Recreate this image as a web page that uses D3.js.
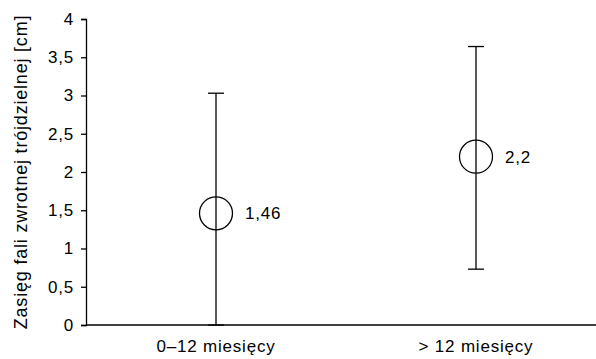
<!DOCTYPE html>
<html>
<head>
<meta charset="utf-8">
<script src="https://cdn.jsdelivr.net/npm/d3@7"></script>
<style>
  html, body { margin: 0; padding: 0; background: #fff; }
  svg { display: block; }
  text { font-family: "Liberation Sans", Arial, sans-serif; fill: #000; letter-spacing: 0.8px; }
</style>
</head>
<body>
<svg id="chart" width="596" height="359"></svg>
<script>
// Groups and their mean / range values
const categories = ["0\u201312 miesi\u0119cy", "> 12 miesi\u0119cy"];
const means = [1.46, 2.2];
const lows = [0, 0.73];
const highs = [3.03, 3.64];
const meanLabels = ["1,46", "2,2"];
const yTicks = [0, 0.5, 1, 1.5, 2, 2.5, 3, 3.5, 4];
const yTickLabels = ["0", "0,5", "1", "1,5", "2", "2,5", "3", "3,5", "4"];
const yTitle = "Zasi\u0119g fali zwrotnej tr\u00f3jdzielnej [cm]";

const svg = d3.select("#chart");
const mLeft = 86, mTop = 19, mBottom = 325, mRight = 596;
const fs = "17px";

const y = d3.scaleLinear().domain([0, 4]).range([mBottom, mTop]);
const x = d3.scaleBand().domain(categories).range([mLeft, 606]);
const cx = c => x(c) + x.bandwidth() / 2;

// Y axis
const yAxis = d3.axisLeft(y)
  .tickValues(yTicks)
  .tickFormat((d, i) => yTickLabels[i])
  .tickSize(5)
  .tickPadding(7);
const gy = svg.append("g").attr("transform", `translate(${mLeft},0)`).call(yAxis);
gy.attr("font-family", null).attr("font-size", null);
gy.select(".domain").attr("stroke", "#000").attr("stroke-width", 1.3);
gy.selectAll(".tick line").attr("stroke", "#000").attr("stroke-width", 1.3);
gy.selectAll(".tick text").style("font-size", fs).attr("fill", "#000");

// X axis baseline
svg.append("line")
  .attr("x1", mLeft).attr("x2", mRight)
  .attr("y1", y(0)).attr("y2", y(0))
  .attr("stroke", "#000").attr("stroke-width", 1.3);

// Category labels
svg.selectAll(".xlab").data(categories).enter().append("text")
  .attr("class", "xlab")
  .attr("x", d => cx(d))
  .attr("y", 352)
  .attr("text-anchor", "middle")
  .style("font-size", fs)
  .text(d => d);

// Y axis title
svg.append("text")
  .attr("transform", `translate(27,${(mTop + mBottom) / 2}) rotate(-90)`)
  .attr("text-anchor", "middle")
  .style("font-size", "18px")
  .text(yTitle);

// Error bars
const capHalf = 8;
const g = svg.selectAll(".grp").data(categories).enter().append("g").attr("class", "grp");
g.append("line")
  .attr("x1", d => cx(d)).attr("x2", d => cx(d))
  .attr("y1", (d, i) => y(lows[i])).attr("y2", (d, i) => y(highs[i]))
  .attr("stroke", "#000").attr("stroke-width", 1.3);
g.append("line")
  .attr("x1", d => cx(d) - capHalf).attr("x2", d => cx(d) + capHalf)
  .attr("y1", (d, i) => y(highs[i])).attr("y2", (d, i) => y(highs[i]))
  .attr("stroke", "#000").attr("stroke-width", 1.3);
g.append("line")
  .attr("x1", d => cx(d) - capHalf).attr("x2", d => cx(d) + capHalf)
  .attr("y1", (d, i) => y(lows[i])).attr("y2", (d, i) => y(lows[i]))
  .attr("stroke", "#000").attr("stroke-width", 1.3);
g.append("circle")
  .attr("cx", d => cx(d)).attr("cy", (d, i) => y(means[i]))
  .attr("r", 16.5)
  .attr("fill", "none").attr("stroke", "#000").attr("stroke-width", 1.3);
g.append("text")
  .attr("x", d => cx(d) + 29)
  .attr("y", (d, i) => y(means[i]) + 6)
  .style("font-size", fs)
  .text((d, i) => meanLabels[i]);
</script>
</body>
</html>
